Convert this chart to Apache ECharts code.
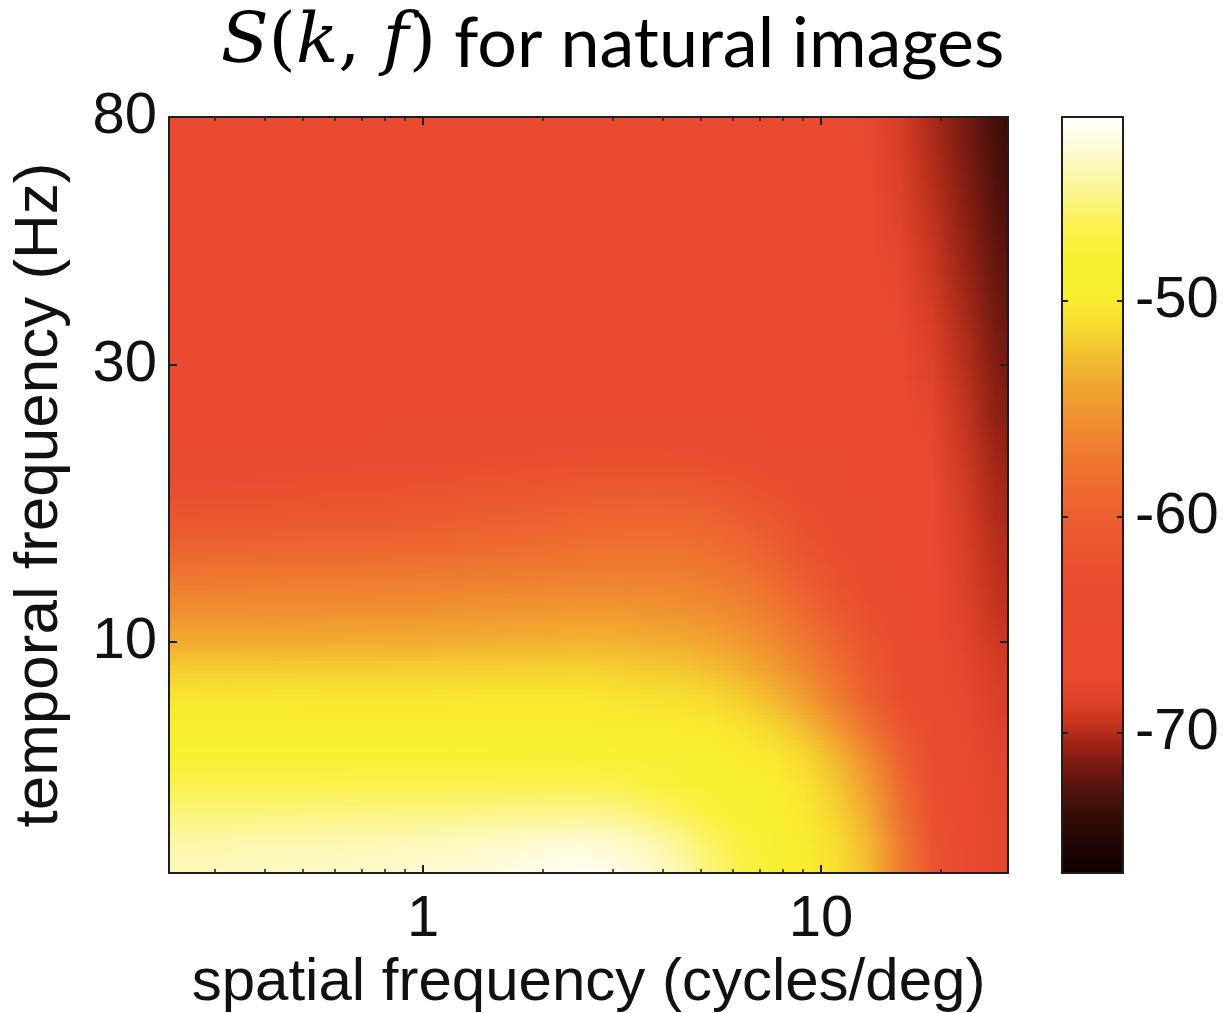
<!DOCTYPE html>
<html>
<head>
<meta charset="utf-8">
<script src="https://cdn.jsdelivr.net/npm/echarts@6/dist/echarts.min.js"></script>
<style>
  html, body { margin: 0; padding: 0; background: #ffffff; }
  #chart { width: 1225px; height: 1013px; }
</style>
</head>
<body>
<div id="chart"></div>
<script>
// Spatial frequency cell edges (cycles/deg), log-spaced
const kEdges = [0.229, 0.275, 0.331, 0.398, 0.479, 0.575, 0.692, 0.832, 1.000, 1.202,
                1.445, 1.738, 2.089, 2.512, 3.020, 3.631, 4.365, 5.248, 6.310, 7.586,
                9.120, 10.96, 13.18, 15.85, 19.05, 22.91, 27.54, 33.11];

// Temporal frequency cell edges (Hz), log-spaced
const fEdges = [4.00, 4.49, 5.04, 5.65, 6.34, 7.11, 7.98, 8.96, 10.05, 11.27,
                12.65, 14.19, 15.92, 17.87, 20.05, 22.49, 25.24, 28.32, 31.77, 35.65,
                40.00, 44.88, 50.36, 56.50, 63.40, 71.13, 80.00];

// Power S(k,f) in dB, one row per temporal band (lowest band first), one value per spatial band
const spectrumRows = [
  [-43.8,-43.7,-43.6,-43.5,-43.5,-43.4,-43.3,-43.2,-43.0,-42.8,-42.6,-42.3,-42.0,-42.0,-42.6,-43.4,-44.6,-46.2,-47.8,-49.4,-50.1,-51.4,-54.4,-60.3,-64.5,-66.8,-68.4],
  [-44.6,-44.6,-44.6,-44.5,-44.5,-44.4,-44.4,-44.3,-44.3,-44.2,-44.0,-43.9,-43.7,-43.8,-44.2,-44.9,-46.0,-47.6,-48.5,-49.2,-50.3,-52.0,-55.2,-61.2,-64.6,-67.0,-68.4],
  [-46.1,-46.1,-46.1,-46.1,-46.1,-46.0,-46.0,-46.0,-46.0,-46.0,-45.9,-45.9,-45.8,-45.8,-46.3,-47.2,-48.3,-48.9,-49.1,-49.3,-51.0,-52.9,-56.0,-62.0,-64.7,-67.2,-68.5],
  [-47.9,-47.9,-47.9,-47.9,-47.9,-47.8,-47.8,-47.8,-47.8,-47.8,-47.8,-47.7,-47.7,-47.7,-47.8,-47.9,-48.0,-48.8,-49.3,-49.8,-51.4,-53.6,-57.0,-62.6,-64.8,-67.4,-68.6],
  [-49.0,-49.0,-49.0,-49.0,-49.0,-49.0,-49.0,-49.0,-49.0,-49.0,-49.0,-49.0,-49.0,-49.1,-49.3,-49.3,-49.3,-49.5,-50.2,-50.9,-52.8,-55.3,-59.0,-63.4,-65.0,-67.7,-68.7],
  [-49.6,-49.6,-49.6,-49.6,-49.6,-49.7,-49.7,-49.7,-49.7,-49.7,-49.8,-49.8,-49.8,-49.8,-49.9,-50.0,-50.1,-50.6,-51.6,-52.8,-55.3,-57.6,-61.5,-64.2,-65.2,-68.0,-69.0],
  [-50.8,-50.8,-50.8,-50.8,-50.8,-50.8,-50.8,-50.8,-50.8,-50.7,-50.7,-50.7,-50.7,-50.7,-51.2,-51.3,-51.5,-52.2,-53.2,-54.6,-56.7,-59.3,-62.6,-64.5,-65.4,-68.3,-69.1],
  [-52.9,-52.9,-52.9,-52.9,-52.8,-52.8,-52.8,-52.7,-52.7,-52.7,-52.6,-52.5,-52.5,-52.4,-52.7,-52.8,-53.1,-53.9,-54.7,-56.1,-57.8,-59.9,-63.3,-64.7,-65.5,-68.6,-69.4],
  [-55.0,-55.0,-54.9,-54.9,-54.9,-54.8,-54.8,-54.7,-54.6,-54.5,-54.4,-54.3,-54.2,-54.0,-54.3,-54.5,-54.7,-55.3,-56.0,-57.4,-59.2,-61.5,-64.1,-65.0,-65.7,-68.9,-69.8],
  [-56.2,-56.2,-56.2,-56.1,-56.1,-56.1,-56.1,-56.0,-56.0,-55.9,-55.8,-55.8,-55.7,-55.6,-55.8,-55.9,-56.1,-56.6,-57.1,-58.7,-60.6,-62.8,-64.7,-65.3,-66.0,-69.1,-70.0],
  [-58.1,-58.1,-58.0,-58.0,-58.0,-57.9,-57.9,-57.8,-57.7,-57.6,-57.5,-57.4,-57.3,-57.1,-57.1,-57.1,-57.2,-57.9,-58.5,-60.2,-61.9,-63.8,-65.0,-65.6,-66.3,-69.3,-70.1],
  [-60.2,-60.1,-60.1,-60.0,-59.9,-59.9,-59.8,-59.6,-59.5,-59.3,-59.1,-58.9,-58.7,-58.4,-58.3,-58.3,-58.4,-59.0,-59.8,-61.4,-63.0,-64.2,-65.1,-65.7,-66.5,-69.5,-70.3],
  [-61.8,-61.7,-61.7,-61.6,-61.5,-61.4,-61.3,-61.1,-60.9,-60.7,-60.5,-60.2,-59.9,-59.6,-59.5,-59.5,-59.6,-60.2,-61.1,-62.6,-64.0,-64.6,-65.2,-65.9,-66.8,-69.7,-70.5],
  [-63.4,-63.3,-63.3,-63.2,-63.1,-63.0,-62.9,-62.7,-62.5,-62.3,-62.1,-61.8,-61.5,-61.2,-61.2,-61.2,-61.4,-62.2,-63.0,-64.0,-64.6,-65.0,-65.4,-66.2,-67.3,-69.9,-70.8],
  [-64.6,-64.6,-64.5,-64.5,-64.4,-64.4,-64.3,-64.2,-64.1,-64.0,-63.8,-63.7,-63.5,-63.3,-63.2,-63.3,-63.5,-64.0,-64.5,-64.8,-65.0,-65.2,-65.6,-66.5,-67.8,-70.1,-71.0],
  [-65.2,-65.2,-65.2,-65.1,-65.1,-65.1,-65.1,-65.0,-65.0,-64.9,-64.8,-64.8,-64.7,-64.6,-64.6,-64.7,-64.8,-65.0,-65.1,-65.2,-65.3,-65.4,-65.8,-66.8,-68.3,-70.3,-71.4],
  [-65.5,-65.5,-65.5,-65.4,-65.4,-65.4,-65.4,-65.3,-65.3,-65.3,-65.2,-65.2,-65.2,-65.2,-65.2,-65.2,-65.3,-65.3,-65.4,-65.4,-65.5,-65.5,-66.0,-67.1,-68.7,-70.4,-71.8],
  [-65.6,-65.6,-65.6,-65.5,-65.5,-65.5,-65.5,-65.4,-65.4,-65.4,-65.4,-65.3,-65.3,-65.3,-65.3,-65.3,-65.4,-65.4,-65.5,-65.5,-65.6,-65.7,-66.2,-67.4,-69.0,-70.6,-72.0],
  [-65.7,-65.7,-65.7,-65.6,-65.6,-65.6,-65.6,-65.5,-65.5,-65.5,-65.5,-65.4,-65.4,-65.4,-65.4,-65.4,-65.5,-65.5,-65.6,-65.6,-65.7,-65.8,-66.4,-67.7,-69.3,-70.8,-72.3],
  [-65.8,-65.8,-65.8,-65.7,-65.7,-65.7,-65.7,-65.6,-65.6,-65.6,-65.6,-65.5,-65.5,-65.5,-65.5,-65.5,-65.6,-65.6,-65.7,-65.7,-65.8,-65.9,-66.6,-68.0,-69.6,-71.0,-72.6],
  [-65.9,-65.9,-65.9,-65.8,-65.8,-65.8,-65.8,-65.7,-65.7,-65.7,-65.7,-65.6,-65.6,-65.6,-65.6,-65.6,-65.7,-65.7,-65.8,-65.8,-65.9,-66.0,-66.9,-68.3,-69.9,-71.2,-72.9],
  [-66.0,-66.0,-66.0,-65.9,-65.9,-65.9,-65.9,-65.8,-65.8,-65.8,-65.8,-65.7,-65.7,-65.7,-65.7,-65.7,-65.8,-65.8,-65.9,-65.9,-66.0,-66.1,-67.1,-68.6,-70.1,-71.4,-73.2],
  [-66.0,-66.0,-66.0,-66.0,-66.0,-65.9,-65.9,-65.9,-65.9,-65.8,-65.8,-65.8,-65.8,-65.8,-65.8,-65.8,-65.9,-65.9,-66.0,-66.0,-66.1,-66.2,-67.3,-68.9,-70.3,-71.6,-73.5],
  [-66.1,-66.1,-66.1,-66.0,-66.0,-66.0,-66.0,-65.9,-65.9,-65.9,-65.9,-65.9,-65.9,-65.9,-65.9,-65.9,-66.0,-66.0,-66.1,-66.1,-66.2,-66.3,-67.5,-69.1,-70.5,-71.8,-73.8],
  [-66.1,-66.1,-66.1,-66.1,-66.1,-66.0,-66.0,-66.0,-66.0,-66.0,-66.0,-66.0,-66.0,-66.0,-66.0,-66.0,-66.1,-66.1,-66.2,-66.2,-66.3,-66.4,-67.7,-69.3,-70.7,-72.0,-74.1],
  [-66.2,-66.2,-66.2,-66.2,-66.2,-66.1,-66.1,-66.1,-66.1,-66.1,-66.1,-66.1,-66.1,-66.1,-66.1,-66.1,-66.2,-66.2,-66.3,-66.3,-66.4,-66.5,-67.9,-69.5,-70.9,-72.2,-74.5]
];

// Axis ranges and ticks
const kRange = [0.23, 29.5];
const fRange = [4, 80];
const kMajorTicks = [1, 10];
const kMinorTicks = [0.3, 0.4, 0.5, 0.6, 0.7, 0.8, 0.9, 2, 3, 4, 5, 6, 7, 8, 9, 20];
const fTicks = [10, 30, 80];
const dbRange = [-76.5, -41.5];
const dbTicks = [-70, -60, -50];

// Colour scale: black -> dark red -> red -> orange -> yellow -> white, 1 dB per stop
const colormap = [
  '#100000', '#1c0404', '#2a0806', '#3c0e08', '#561410', '#781a10', '#a02516', '#c8341f',
  '#e04329', '#e8492f', '#e94a30', '#e94a30', '#e94b30', '#e94c30', '#ea4f30', '#ea5430',
  '#eb5b30', '#ec6330', '#ed6c30', '#ee7630', '#ef8230', '#f08f30', '#f19e30', '#f2ae30',
  '#f4c030', '#f6d530', '#f8e630', '#f9ee30', '#f9f032', '#f9f038', '#faf250', '#fbf478',
  '#fcf6a0', '#fdf9c4', '#fefce4', '#ffffff'
];

const lg = Math.log10;
const NC = kEdges.length - 1;
const NR = fEdges.length - 1;

// Each cell: [log k0, log k1, log f0, log f1, dB]
const cells = [];
spectrumRows.forEach(function (row, j) {
  row.forEach(function (v, i) {
    cells.push([lg(kEdges[i]), lg(kEdges[i + 1]), lg(fEdges[j]), lg(fEdges[j + 1]), v]);
  });
});

const plotRect = { left: 169, top: 117, width: 839, height: 756, outerBoundsMode: 'none' };
const barRect = { left: 1062, top: 117, width: 61, height: 756, outerBoundsMode: 'none' };
const FRAME = '#1e1e1e';
const SANS = '"Liberation Sans", Arial, Helvetica, sans-serif';
const SERIF = '"DejaVu Serif", "Liberation Serif", serif';
const tickText = { fontFamily: SANS, fontSize: 58, color: '#111111' };

function powLabel(v) { return String(Math.round(Math.pow(10, v))); }

function frameLine() {
  return { show: true, onZero: false, lineStyle: { color: FRAME, width: 2 } };
}

// Interpolated shading: the colour at each cell corner is the mean of the
// mapped colours of the cells that share it; each cell is then shaded
// bilinearly between its four corners (drawn as thin horizontal-gradient strips).
const cellRGB = [];
function rgbOf(api, idx) {
  if (!cellRGB[idx]) cellRGB[idx] = echarts.color.parse(api.visual('color', idx));
  return cellRGB[idx];
}
function cornerRGB(api, ci, rj) {
  let r = 0, g = 0, b = 0, n = 0;
  for (let dj = -1; dj <= 0; dj++) {
    for (let di = -1; di <= 0; di++) {
      const i = ci + di, j = rj + dj;
      if (i < 0 || j < 0 || i >= NC || j >= NR) continue;
      const c = rgbOf(api, j * NC + i);
      r += c[0]; g += c[1]; b += c[2]; n++;
    }
  }
  return [r / n, g / n, b / n];
}
function mix(a, b, t) {
  return [a[0] + (b[0] - a[0]) * t, a[1] + (b[1] - a[1]) * t, a[2] + (b[2] - a[2]) * t];
}
function css(c) {
  return 'rgb(' + Math.round(c[0]) + ',' + Math.round(c[1]) + ',' + Math.round(c[2]) + ')';
}

const STRIPS = 7;
function renderCell(params, api) {
  const idx = params.dataIndex;
  const i = idx % NC, j = Math.floor(idx / NC);
  const pTL = api.coord([api.value(0), api.value(3)]);
  const pBR = api.coord([api.value(1), api.value(2)]);
  const cs = params.coordSys;
  const box = { x: cs.x, y: cs.y, width: cs.width, height: cs.height };
  const bl = cornerRGB(api, i, j), br = cornerRGB(api, i + 1, j);
  const tl = cornerRGB(api, i, j + 1), tr = cornerRGB(api, i + 1, j + 1);
  const x0 = pTL[0], x1 = pBR[0];
  const h = (pBR[1] - pTL[1]) / STRIPS;
  const children = [];
  for (let s = 0; s < STRIPS; s++) {
    const ya = pTL[1] + s * h;
    const v = 1 - (s + 0.5) / STRIPS;
    const L = mix(bl, tl, v), R = mix(br, tr, v);
    const rect = echarts.graphic.clipRectByRect(
      { x: x0 - 0.4, y: ya - 0.4, width: x1 - x0 + 0.8, height: h + 0.8 }, box);
    if (!rect) continue;
    children.push({
      type: 'rect',
      shape: rect,
      style: {
        fill: new echarts.graphic.LinearGradient(x0, ya, x1, ya,
          [{ offset: 0, color: css(L) }, { offset: 1, color: css(R) }], true)
      }
    });
  }
  return { type: 'group', children: children };
}

const chart = echarts.init(document.getElementById('chart'), null, { renderer: 'canvas' });

chart.setOption({
  backgroundColor: '#ffffff',
  animation: false,
  title: {
    left: 'center',
    top: 4,
    text: '{m|S}{p|(}{m|k}{p|, }{m|f}{p|)}{t| for natural images}',
    textStyle: {
      fontWeight: 'normal',
      rich: {
        m: { fontFamily: SERIF, fontStyle: 'italic', fontWeight: 'normal', fontSize: 70, color: '#000' },
        p: { fontFamily: SERIF, fontWeight: 'normal', fontSize: 70, color: '#000' },
        t: { fontFamily: 'Lato, "Open Sans", sans-serif', fontWeight: 'normal', fontSize: 70, color: '#000' }
      }
    }
  },
  grid: [
    Object.assign({}, plotRect),
    Object.assign({}, plotRect),
    Object.assign({}, barRect)
  ],
  xAxis: [
    {
      gridIndex: 0, type: 'value', position: 'bottom', z: 5,
      min: lg(kRange[0]), max: lg(kRange[1]),
      axisLine: frameLine(),
      axisTick: { show: true, inside: true, length: 8, customValues: kMajorTicks.map(lg), lineStyle: { color: FRAME, width: 2 } },
      axisLabel: Object.assign({ customValues: kMajorTicks.map(lg), formatter: powLabel, margin: 18 }, tickText),
      splitLine: { show: false },
      name: 'spatial frequency (cycles/deg)', nameLocation: 'middle', nameGap: 72,
      nameTextStyle: { fontFamily: SANS, fontSize: 60, color: '#111111' }
    },
    {
      gridIndex: 0, type: 'value', position: 'top', z: 5,
      min: lg(kRange[0]), max: lg(kRange[1]),
      axisLine: frameLine(),
      axisTick: { show: true, inside: true, length: 8, customValues: kMajorTicks.map(lg), lineStyle: { color: FRAME, width: 2 } },
      axisLabel: { show: false }, splitLine: { show: false }
    },
    {
      gridIndex: 1, type: 'value', position: 'bottom', z: 5,
      min: lg(kRange[0]), max: lg(kRange[1]),
      axisLine: { show: false, onZero: false },
      axisTick: { show: true, inside: true, length: 4, customValues: kMinorTicks.map(lg), lineStyle: { color: FRAME, width: 1.5 } },
      axisLabel: { show: false }, splitLine: { show: false }
    },
    {
      gridIndex: 1, type: 'value', position: 'top', z: 5,
      min: lg(kRange[0]), max: lg(kRange[1]),
      axisLine: { show: false, onZero: false },
      axisTick: { show: true, inside: true, length: 4, customValues: kMinorTicks.map(lg), lineStyle: { color: FRAME, width: 1.5 } },
      axisLabel: { show: false }, splitLine: { show: false }
    },
    {
      gridIndex: 2, type: 'value', position: 'bottom', z: 10, min: 0, max: 1,
      axisLine: frameLine(), axisTick: { show: false }, axisLabel: { show: false }, splitLine: { show: false }
    },
    {
      gridIndex: 2, type: 'value', position: 'top', z: 10, min: 0, max: 1,
      axisLine: frameLine(), axisTick: { show: false }, axisLabel: { show: false }, splitLine: { show: false }
    }
  ],
  yAxis: [
    {
      gridIndex: 0, type: 'value', position: 'left', z: 5,
      min: lg(fRange[0]), max: lg(fRange[1]),
      axisLine: frameLine(),
      axisTick: { show: true, inside: true, length: 8, customValues: fTicks.map(lg), lineStyle: { color: FRAME, width: 2 } },
      axisLabel: Object.assign({ customValues: fTicks.map(lg), formatter: powLabel, margin: 12 }, tickText),
      splitLine: { show: false },
      name: 'temporal frequency (Hz)', nameLocation: 'middle', nameGap: 98, nameRotate: 90,
      nameTextStyle: { fontFamily: SANS, fontSize: 62, color: '#111111' }
    },
    {
      gridIndex: 0, type: 'value', position: 'right', z: 5,
      min: lg(fRange[0]), max: lg(fRange[1]),
      axisLine: frameLine(),
      axisTick: { show: true, inside: true, length: 8, customValues: fTicks.map(lg), lineStyle: { color: FRAME, width: 2 } },
      axisLabel: { show: false }, splitLine: { show: false }
    },
    {
      gridIndex: 1, type: 'value', show: false,
      min: lg(fRange[0]), max: lg(fRange[1])
    },
    {
      gridIndex: 2, type: 'value', position: 'right', z: 10,
      min: dbRange[0], max: dbRange[1],
      axisLine: frameLine(),
      axisTick: { show: true, inside: true, length: 6, customValues: dbTicks, lineStyle: { color: FRAME, width: 2 } },
      axisLabel: Object.assign({ customValues: dbTicks, margin: 12 }, tickText),
      splitLine: { show: false }
    },
    {
      gridIndex: 2, type: 'value', position: 'left', z: 10,
      min: dbRange[0], max: dbRange[1],
      axisLine: frameLine(),
      axisTick: { show: true, inside: true, length: 6, customValues: dbTicks, lineStyle: { color: FRAME, width: 2 } },
      axisLabel: { show: false }, splitLine: { show: false }
    }
  ],
  visualMap: {
    type: 'continuous',
    seriesIndex: 0,
    dimension: 4,
    min: dbRange[0], max: dbRange[1],
    inRange: { color: colormap },
    orient: 'vertical',
    left: barRect.left, top: barRect.top,
    itemWidth: barRect.width, itemHeight: barRect.height,
    padding: 0,
    calculable: false,
    hoverLink: false,
    z: 2
  },
  series: [{
    type: 'custom',
    xAxisIndex: 0, yAxisIndex: 0,
    data: cells,
    encode: { x: [0, 1], y: [2, 3] },
    renderItem: renderCell,
    silent: true,
    z: 1
  }]
});
</script>
</body>
</html>
